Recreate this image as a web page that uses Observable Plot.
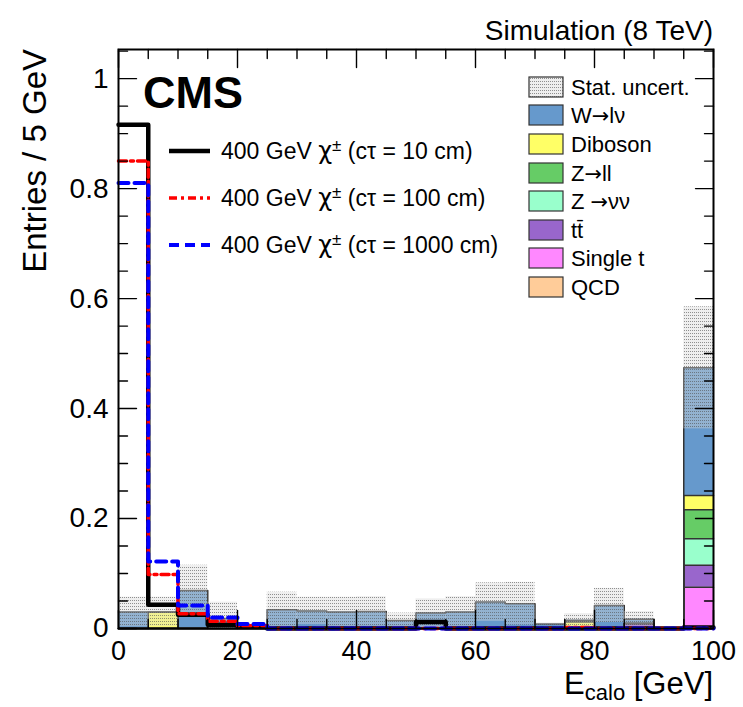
<!DOCTYPE html>
<html><head><meta charset="utf-8">
<script src="https://cdn.jsdelivr.net/npm/d3@7"></script>
<script src="https://cdn.jsdelivr.net/npm/@observablehq/plot@0.6"></script>
<style>
html,body{margin:0;padding:0;background:#fff;}
#chart{position:relative;width:743px;height:707px;}
svg text{font-family:"Liberation Sans",Arial,Helvetica,sans-serif;}
</style></head><body><div id="chart"></div>
<script>
// ---- data ----
const binLow = [0,5,10,15,20,25,30,35,40,45,50,55,60,65,70,75,80,85,90,95];
const binWidth = 5;
const xDomain = [0, 100];
const yDomain = [0, 1.053];

const processes = ["W→lν","Diboson","Z→ll","Z →νν","tt̄","Single t","QCD"];
const processColors = ["#6699cc","#ffff66","#66cc66","#99ffcc","#9966cc","#ff88ff","#ffcc99"];
const stackOrder = ["QCD","Single t","tt̄","Z →νν","Z→ll","Diboson","W→lν"];

const wLnu    = [0.030,0,0.069,0.018,0.001,0.034,0.032,0.030,0.031,0.0145,0.028,0.030,0.048,0.045,0.008,0.003,0.042,0.008,0,0.232];
const diboson = [0,0.030,0,0,0,0,0,0,0,0,0,0,0,0,0,0.012,0,0,0,0.026];
const zll     = [0,0,0,0,0,0,0,0,0,0,0,0,0,0,0,0,0,0,0,0.053];
const znunu   = [0,0,0,0,0,0,0,0,0,0,0,0,0,0,0,0,0,0,0,0.048];
const ttbar   = [0,0,0,0,0,0,0,0,0,0,0,0,0,0,0,0,0,0.009,0,0.040];
const singleT = [0,0,0,0,0,0,0,0,0,0,0,0,0,0,0,0,0,0,0,0.075];
const qcd     = [0,0,0,0,0,0,0,0,0,0,0,0,0,0,0,0,0,0,0,0];
const statErr = [0.027,0.027,0.046,0.030,0.001,0.032,0.025,0.027,0.027,0.0135,0.026,0.028,0.035,0.039,0.002,0.012,0.031,0.014,0,0.111];

const sig10   = [0.916,0.043,0.025,0.007,0.003,0,0,0,0,0,0.012,0,0,0,0,0,0,0,0,0.002];
const sig100  = [0.850,0.098,0.027,0.013,0.005,0,0,0,0,0,0,0,0,0,0,0.002,0,0,0,0];
const sig1000 = [0.810,0.122,0.042,0.020,0.008,0,0,0,0,0,0,0,0,0,0,0,0,0,0,0];
const signalLabels = ["(cτ = 10 cm)","(cτ = 100 cm)","(cτ = 1000 cm)"];

const xMajorTicks = [0,20,40,60,80,100];
const xMinorTicks = [5,10,15,25,30,35,45,50,55,65,70,75,85,90,95];
const yMajorTicks = [0,0.2,0.4,0.6,0.8,1];
const yMinorTicks = [0.05,0.1,0.15,0.25,0.3,0.35,0.45,0.5,0.55,0.65,0.7,0.75,0.85,0.9,0.95,1.05];

// ---- tables ----
const bkgSeries = {"W→lν": wLnu, "Diboson": diboson, "Z→ll": zll, "Z →νν": znunu, "tt̄": ttbar, "Single t": singleT, "QCD": qcd};
const bkgRects = [];
const bkgSteps = [];
for (const p of stackOrder) {
  binLow.forEach((lo, i) => {
    bkgRects.push({process: p, x1: lo, x2: lo + binWidth, value: bkgSeries[p][i]});
    bkgSteps.push({process: p, x: lo, value: bkgSeries[p][i]});
  });
  bkgSteps.push({process: p, x: xDomain[1], value: bkgSeries[p][binLow.length - 1]});
}
const statRows = binLow.map((lo, i) => {
  const tot = stackOrder.reduce((s, p) => s + bkgSeries[p][i], 0);
  return {x1: lo, x2: lo + binWidth, lo: Math.max(0, tot - statErr[i]), hi: tot + statErr[i]};
});
function stepRows(v) {
  const r = binLow.map((lo, i) => ({x: lo, value: v[i]}));
  r.push({x: xDomain[1], value: v[v.length - 1]});
  return r;
}

const tickShape = {draw(context, l) { context.moveTo(0, 0); context.lineTo(0, -l); }};
const tickStyle = {shape: tickShape, anchor: "start", stroke: "black", strokeWidth: 1.4};

const chart = Plot.plot({
  width: 743, height: 707,
  marginLeft: 118, marginRight: 30, marginTop: 49, marginBottom: 79,
  style: {fontFamily: "'Liberation Sans', Arial, sans-serif", background: "white"},
  x: {domain: xDomain},
  y: {domain: yDomain},
  color: {domain: processes, range: processColors},
  marks: [
    Plot.rectY(bkgRects, {x1: "x1", x2: "x2", y: "value", z: "process", fill: "process", order: stackOrder}),
    Plot.lineY(bkgSteps, Plot.stackY2({x: "x", y: "value", z: "process", order: stackOrder, curve: "step-after", stroke: "#333", strokeWidth: 1.5})),
    Plot.rectY(statRows, {x1: "x1", x2: "x2", y1: "lo", y2: "hi", fill: "url(#statHatch)"}),
    Plot.line(stepRows(sig10), {x: "x", y: "value", curve: "step-after", stroke: "black", strokeWidth: 4.5}),
    Plot.line(stepRows(sig100), {x: "x", y: "value", curve: "step-after", stroke: "#ff0000", strokeWidth: 3.5, strokeDasharray: "8,4,3,4"}),
    Plot.line(stepRows(sig1000), {x: "x", y: "value", curve: "step-after", stroke: "#0000ff", strokeWidth: 4, strokeDasharray: "10,6"}),
    Plot.vector(xMajorTicks, {x: d => d, frameAnchor: "bottom", rotate: 0, length: 18, ...tickStyle}),
    Plot.vector(xMinorTicks, {x: d => d, frameAnchor: "bottom", rotate: 0, length: 9, ...tickStyle}),
    Plot.vector(xMajorTicks, {x: d => d, frameAnchor: "top", rotate: 180, length: 18, ...tickStyle}),
    Plot.vector(xMinorTicks, {x: d => d, frameAnchor: "top", rotate: 180, length: 9, ...tickStyle}),
    Plot.vector(yMajorTicks, {y: d => d, frameAnchor: "left", rotate: 90, length: 18, ...tickStyle}),
    Plot.vector(yMinorTicks, {y: d => d, frameAnchor: "left", rotate: 90, length: 9, ...tickStyle}),
    Plot.vector(yMajorTicks, {y: d => d, frameAnchor: "right", rotate: 270, length: 18, ...tickStyle}),
    Plot.vector(yMinorTicks, {y: d => d, frameAnchor: "right", rotate: 270, length: 9, ...tickStyle}),
    Plot.frame({stroke: "black", strokeWidth: 2}),
    Plot.axisX(xMajorTicks, {tickSize: 0, tickPadding: 12, fontSize: 27, tickFormat: d => String(d), label: null}),
    Plot.axisY(yMajorTicks, {tickSize: 0, tickPadding: 10, fontSize: 28, tickFormat: d => String(d), label: null})
  ]
});
document.getElementById("chart").appendChild(chart);

// ---- decorations (pattern, titles, legends) ----
const svg = d3.select(chart);
const defs = svg.insert("defs", ":first-child");
const pat = defs.append("pattern").attr("id", "statHatch").attr("patternUnits", "userSpaceOnUse")
  .attr("width", 2).attr("height", 3);
pat.append("rect").attr("width", 2).attr("height", 3).attr("fill", "rgba(215,215,215,0.4)");
pat.append("rect").attr("width", 1).attr("height", 1).attr("fill", "rgba(80,80,80,0.6)");

const font = "'Liberation Sans', Arial, sans-serif";
const deco = svg.append("g").attr("text-anchor", "start").attr("font-family", font);
function txt(x, y, s, size, opts = {}) {
  const t = deco.append("text").attr("x", x).attr("y", y).attr("font-size", size)
    .attr("fill", "black").attr("text-anchor", opts.anchor || "start");
  if (opts.weight) t.attr("font-weight", opts.weight);
  if (opts.transform) t.attr("transform", opts.transform);
  const parts = s.split("→");
  parts.forEach((part, k) => {
    if (k > 0) t.append("tspan").attr("font-family", "'DejaVu Sans', sans-serif").attr("font-size", size * 0.95).text("→");
    if (part) t.append("tspan").text(part);
  });
  return t;
}
txt(713, 40, "Simulation (8 TeV)", 28, {anchor: "end"});
txt(143, 108, "CMS", 45, {weight: "bold"});
txt(0, 0, "Entries / 5 GeV", 33, {anchor: "end", transform: "translate(46,49) rotate(-90)"});
{
  const t = deco.append("text").attr("x", 713).attr("y", 694).attr("text-anchor", "end")
    .attr("font-size", 31);
  t.append("tspan").text("E");
  t.append("tspan").attr("font-size", 22).attr("dy", 6).text("calo");
  t.append("tspan").attr("dy", -6).text(" [GeV]");
}

// signal legend
const sigStyles = [
  {stroke: "black", w: 4.5, dash: null},
  {stroke: "#ff0000", w: 3.5, dash: "8,4,3,4"},
  {stroke: "#0000ff", w: 4, dash: "10,6"}
];
const sigY = [151, 198, 245];
sigStyles.forEach((s, i) => {
  const l = deco.append("line").attr("x1", 169).attr("x2", 210).attr("y1", sigY[i]).attr("y2", sigY[i])
    .attr("stroke", s.stroke).attr("stroke-width", s.w);
  if (s.dash) l.attr("stroke-dasharray", s.dash);
  const t = deco.append("text").attr("x", 221).attr("y", sigY[i] + 8).attr("font-size", 23).attr("text-anchor", "start");
  t.append("tspan").text("400 GeV ");
  t.append("tspan").attr("font-family", "'DejaVu Sans', sans-serif").attr("font-size", 24).text("χ");
  t.append("tspan").attr("font-size", 17).attr("dy", -8).text("±");
  t.append("tspan").attr("dy", 8).text(" " + signalLabels[i]);
});

// background legend
const legY = [87, 115, 144, 173, 201, 230, 258, 287];
const legItems = [{label: "Stat. uncert.", fill: "url(#statHatch)"}]
  .concat(processes.map((p, i) => ({label: p, fill: processColors[i]})));
legItems.forEach((it, i) => {
  if (i === 0) deco.append("rect").attr("x", 529).attr("y", legY[i] - 10).attr("width", 34).attr("height", 20).attr("fill", "white");
  deco.append("rect").attr("x", 529).attr("y", legY[i] - 10).attr("width", 34).attr("height", 20)
    .attr("fill", it.fill).attr("stroke", "#333").attr("stroke-width", 1.2);
  txt(571, legY[i] + 8, it.label, 22);
});
</script></body></html>
